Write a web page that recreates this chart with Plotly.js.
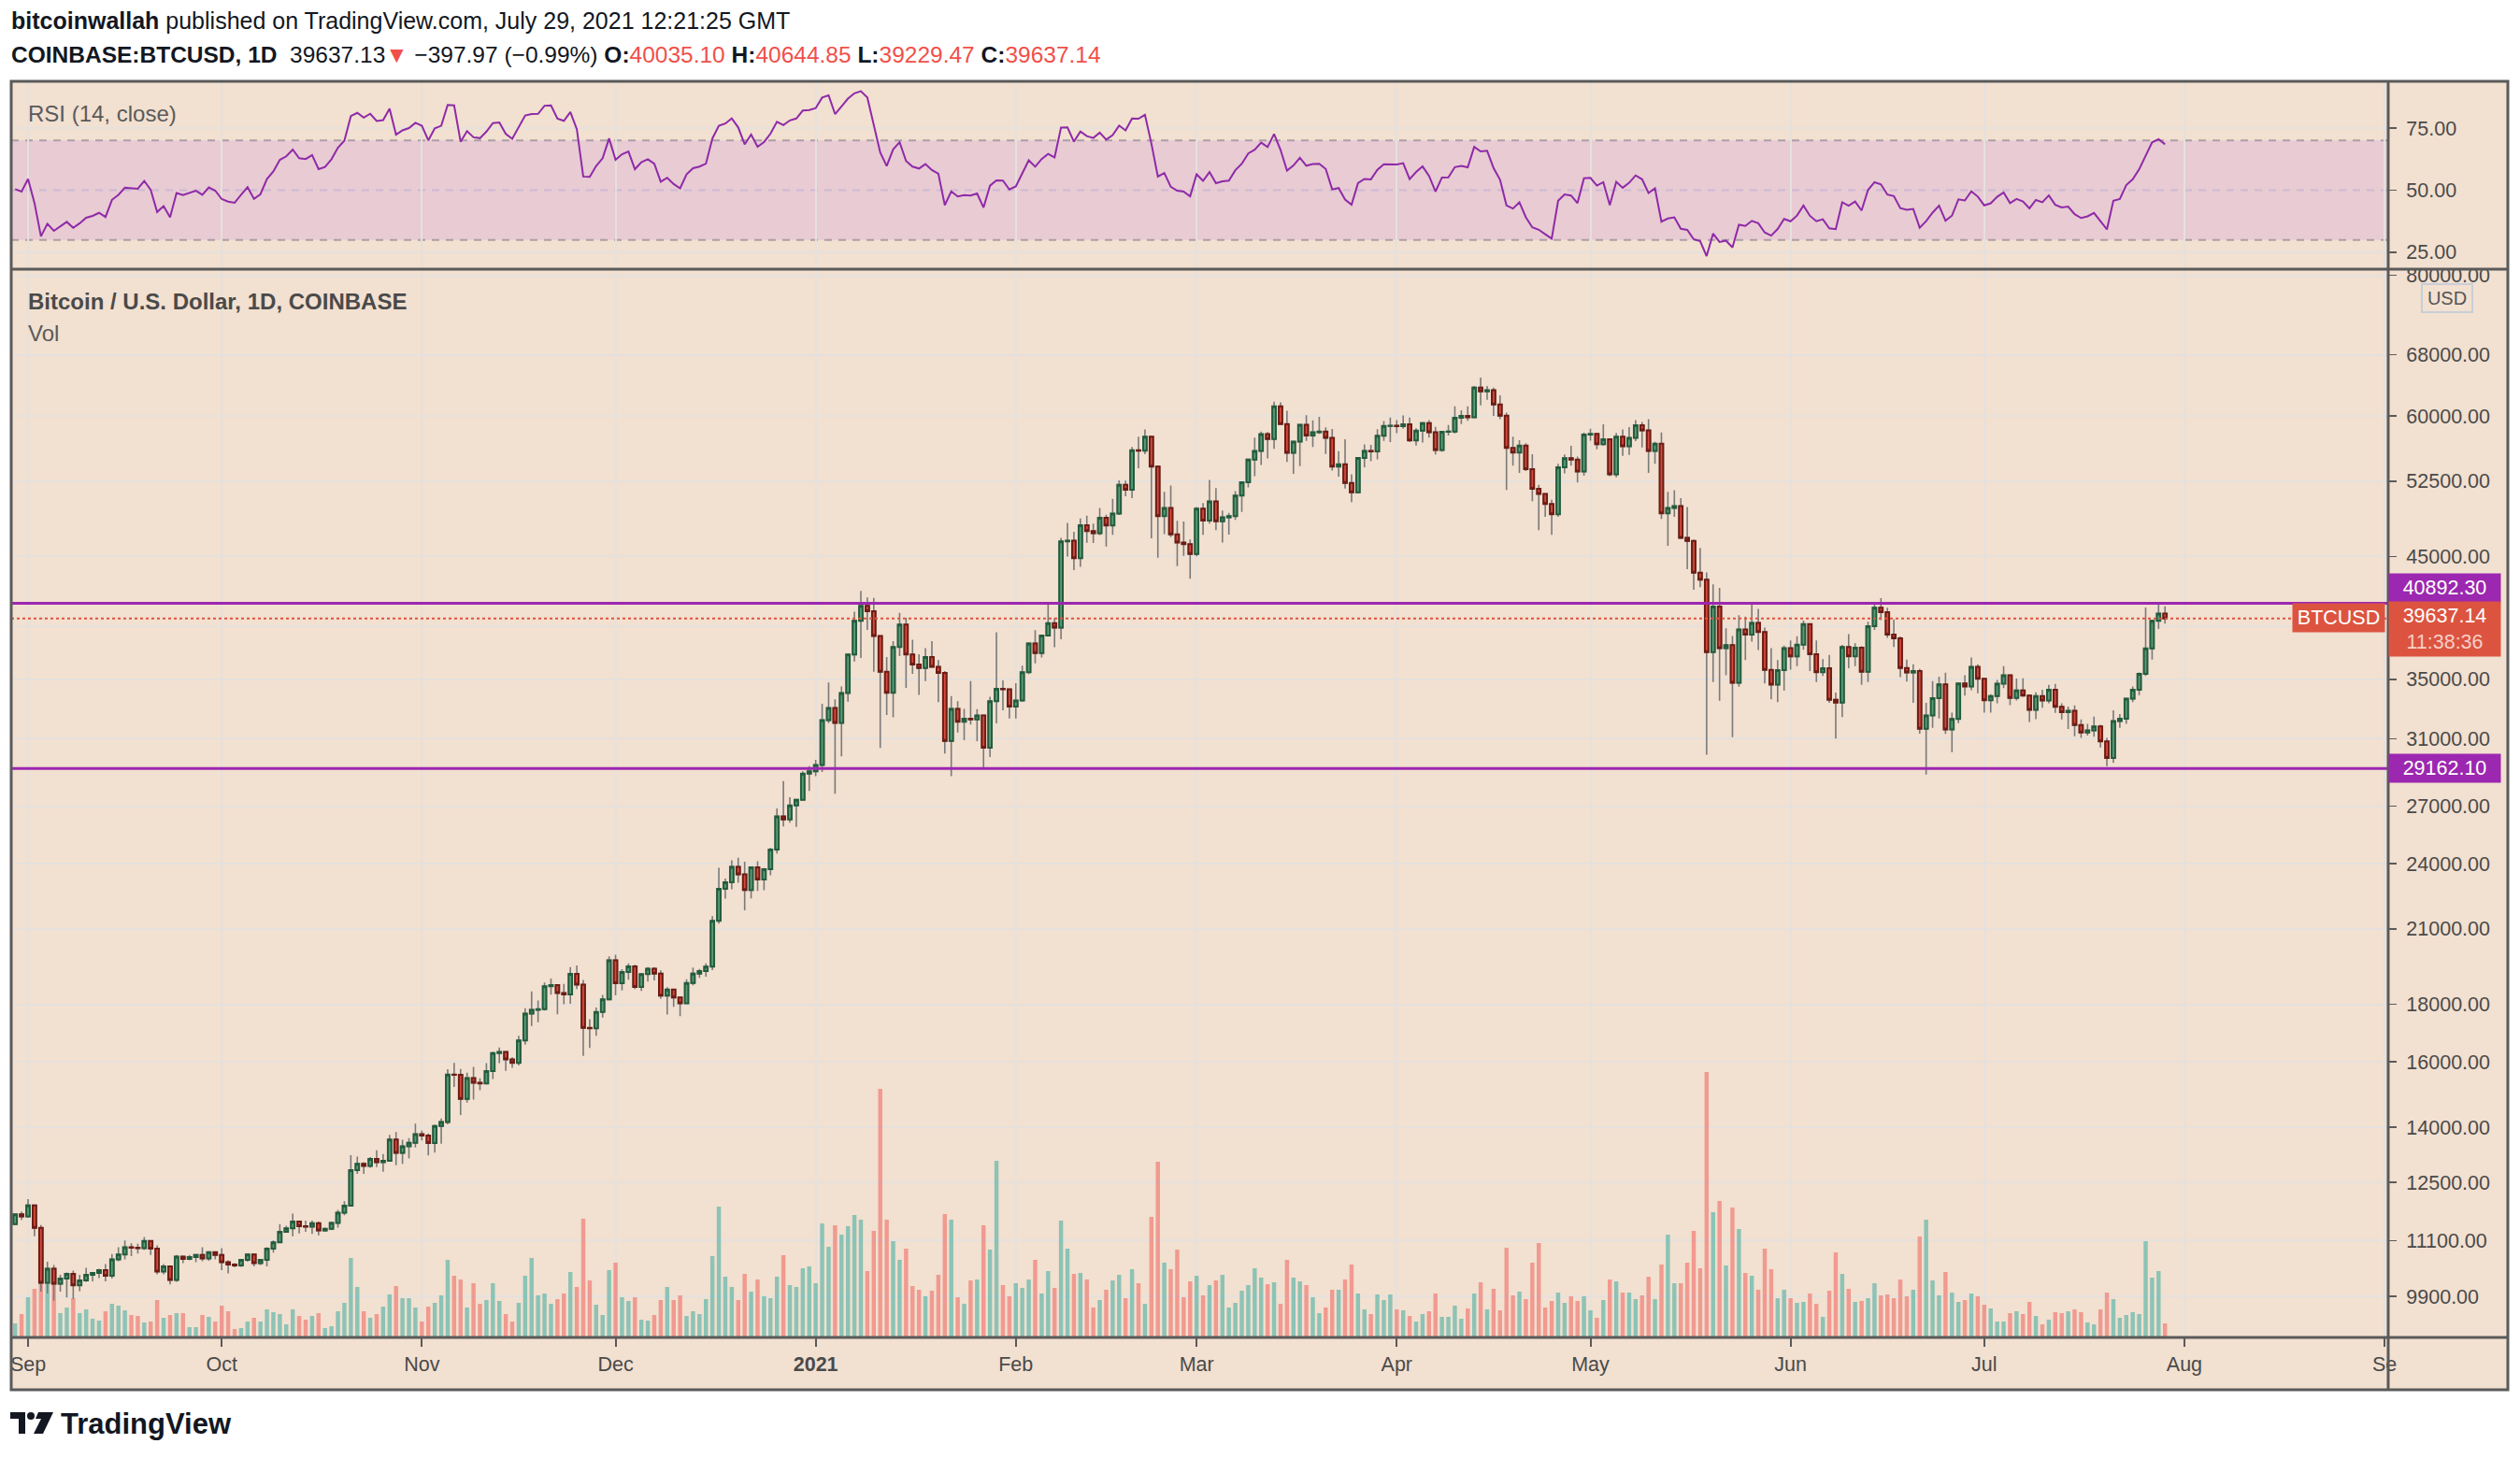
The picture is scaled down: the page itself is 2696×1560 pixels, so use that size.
<!DOCTYPE html>
<html><head><meta charset="utf-8">
<script src="https://cdn.plot.ly/plotly-3.0.1.min.js"></script>
<style>html,body{margin:0;padding:0;background:#fff;}#chart{width:2696px;height:1560px;}</style>
</head><body><div id="chart"></div>
<script>
// ---------------- DATA (daily candles, COINBASE:BTCUSD, 2020-08-30 .. 2021-07-29) ----------------
const startDate = '2020-08-30';
const open = [
11480,11710,
11660,11930,11390,10180,10480,10160,10270,10370,10130,10230,10350,10390,10450,10330,10680,10790,10950,10940,10930,11090,10920,10420,10530,10240,10740,10690,10730,10780,10700,10840,
10780,10620,10570,10550,10670,10790,10600,10670,10920,11060,11300,11380,11540,11430,11420,11500,11330,11370,11510,11750,11920,12820,12990,12930,13120,13030,13070,13650,13280,13460,13560,
13800,13760,13550,14030,14150,15590,15580,14830,15480,15330,15310,15700,16290,16330,16080,15970,16720,17660,17800,17820,18680,18720,18420,18370,19160,18740,17150,17140,17720,18180,
19700,18790,19230,19450,18650,19150,19360,19170,18320,18550,18250,18040,18800,19170,19270,19440,21350,22800,23110,23850,23480,22740,23820,23240,23730,24700,26440,26280,27040,27360,28860,
28990,29370,32190,33000,32020,34030,36820,39460,40670,40240,38240,35550,34050,37390,39150,36830,36070,35820,36630,35910,35470,30850,32950,32090,32290,32250,32510,30430,33470,34320,34290,
33110,33520,35510,37670,36930,38290,39260,38900,46420,46480,44840,47970,47400,47190,48720,47950,49140,52120,51600,55920,55880,57490,54100,48880,49700,47090,46300,46150,
45240,49620,48440,50370,48370,48750,48880,50970,52390,54880,55850,57800,57230,61190,59000,55640,56930,58930,57650,58030,58100,57370,54100,54340,52300,51310,55050,55860,55790,57620,58780,
58800,58740,58990,57070,58210,59130,58020,55950,58090,58120,59780,59990,59830,63590,63100,63230,61410,60020,56200,55660,56470,53810,51690,51140,50100,49060,54020,55040,54860,53560,
57750,57830,56620,57200,53240,57490,56390,57360,58860,58240,55850,56690,49150,49700,49880,46760,46450,43540,42910,37000,40610,37300,37540,34750,38760,38360,39290,38560,35680,34630,35660,
37300,36680,37570,39190,36850,35520,35800,33570,33380,37390,36690,37340,35550,39020,40530,40160,38350,38070,35820,35490,35600,31640,32510,33680,34640,31590,32280,34700,34490,35910,
35040,33540,33820,34690,35290,33700,34220,33860,32880,33820,33520,34260,33090,32730,32820,31880,31390,31520,31780,30830,29800,32130,32290,33640,34270,35400,37280,39460,40035.10
];
const high = [
11720,11780,
12080,11950,11460,10630,10560,10350,10400,10440,10350,10500,10400,10480,10580,10800,10950,11100,11040,11030,11180,11090,10990,10580,10540,10780,10760,10780,10800,10950,10860,10850,
10930,10660,10600,10690,10800,10800,10690,10950,11100,11480,11440,11730,11560,11560,11560,11540,11400,11540,11820,12030,13220,13180,13030,13170,13350,13250,13780,13860,13640,13690,14100,
13900,13820,14070,14250,15760,15970,15770,15650,15840,15470,15960,16340,16480,16330,16150,16880,17860,18480,18140,18820,18970,18750,18770,19420,19490,18920,17460,17880,18350,19860,
19920,19340,19570,19520,19180,19420,19420,19290,18640,18560,18290,18950,19410,19350,19570,21560,23800,23280,24170,24300,24100,23840,24120,23790,24790,26870,28420,27500,27380,28990,29300,
29680,33300,34780,33600,34500,36880,40200,41950,41380,41350,38260,36630,37850,40100,39700,37950,36850,37300,37850,36400,35600,33830,33470,32940,34880,32930,32560,33780,38530,34930,34330,
34720,35990,37700,38700,38310,40940,39700,46750,48200,47340,48640,48920,48140,49710,49010,50640,52580,52550,56300,57500,58350,57540,54210,51370,52040,48400,48350,46600,
49790,50200,52640,51770,49450,49200,51450,52400,54900,57390,58100,58050,61790,61700,60630,56950,58990,60100,59470,59900,58600,58430,55830,57200,53240,55100,56600,56560,58400,59380,59800,
59490,60050,59800,58500,59260,59480,58660,58160,58880,61200,60700,61200,63780,64900,63800,63570,62580,60410,57500,57100,56750,55470,52120,51170,50540,54390,55450,56450,55200,58000,
58450,57940,58990,57200,57940,58370,58650,59500,59250,59600,56900,58000,51370,51550,50700,49800,46600,45800,43550,42500,42200,38850,38250,39900,39800,40850,40420,38900,37300,36400,37500,
37900,38230,39480,39240,37900,36480,36790,34070,37550,38400,37690,37450,39380,41000,41330,40530,39560,38210,36450,36100,35750,33350,34880,35200,35480,32700,34700,35300,36600,36100,
35040,33950,34950,35950,35300,35050,35070,33910,34080,34260,34600,34670,33320,33100,33180,32250,31950,32430,31890,31050,32850,32600,33650,34500,35500,40550,39550,40900,40644.85
];
const low = [
11460,11580,
11630,11200,10000,9960,9820,10000,9880,9850,10010,10200,10210,10280,10210,10270,10640,10680,10750,10810,10890,10780,10360,10360,10150,10200,10600,10660,10620,10640,10650,10680,
10450,10380,10510,10520,10630,10530,10560,10530,10830,11050,11280,11200,11260,11300,11250,11220,11300,11340,11400,11690,11900,12720,12720,12880,12900,12780,13050,12950,12990,13130,13430,
13620,13210,13290,13530,14080,15200,14350,14720,14810,15100,15280,15450,15960,15710,15810,15880,16570,17220,17350,17770,18360,17640,18000,18020,18570,16200,16460,16880,17520,18180,
18330,18520,18930,18570,18500,18860,18900,18200,17630,17910,17570,18010,18710,19000,19050,19300,21230,22350,22780,23080,21820,22360,22700,22730,23440,24510,25900,26100,25880,27330,27850,
28700,28950,32000,27700,29900,33440,36300,36570,38720,35550,30420,32530,32380,36700,34400,35400,33900,34880,35880,33400,30070,28700,31390,30900,31910,30840,29240,29860,31990,32850,32310,
32300,33430,35370,36160,36600,38220,37380,37990,45000,43760,44060,46290,46250,47020,45920,47050,49000,50900,50700,53900,55490,46700,44890,47100,46820,44120,45050,43000,
45020,47050,48140,47500,46300,47070,48500,49300,51840,53030,54270,55000,56080,58970,54600,53300,54150,57000,56300,57820,55500,53650,53000,51700,50300,51300,54000,54700,54900,57020,56870,
57930,58450,56900,56480,56830,57400,55450,55780,57650,57900,59000,59400,59820,61300,62020,60000,59600,51560,54200,53400,53600,50400,47500,48800,47050,48800,53350,54200,52360,53100,
57050,56050,56470,53050,52900,55300,55400,56970,56250,53400,54390,48600,46000,48800,46650,43850,42050,42270,30000,34800,33500,35300,31100,34480,36400,37800,37170,34700,33600,33400,34200,
35700,35950,37180,35600,34800,35250,33350,31000,32400,35800,35950,34600,34800,38730,39500,38100,37400,35150,34840,33350,31320,28800,31700,32300,31300,30150,32000,33850,34230,34020,
32700,32700,33330,34370,33200,33520,33770,32080,32260,33020,33320,32680,32250,31620,31150,31050,31200,31130,30450,29300,29500,31700,31950,33400,33880,35240,36450,38800,39229.47
];
const close = [
11710,11660,
11930,11390,10180,10480,10160,10270,10370,10130,10230,10350,10390,10450,10330,10680,10790,10950,10940,10930,11090,10920,10420,10530,10240,10740,10690,10730,10780,10700,10840,10780,
10620,10570,10550,10670,10790,10600,10670,10920,11060,11300,11380,11540,11430,11420,11500,11330,11370,11510,11750,11920,12820,12990,12930,13120,13030,13070,13650,13280,13460,13560,13800,
13760,13550,14030,14150,15590,15580,14830,15480,15330,15310,15700,16290,16330,16080,15970,16720,17660,17800,17820,18680,18720,18420,18370,19160,18740,17150,17140,17720,18180,19700,
18790,19230,19450,18650,19150,19360,19170,18320,18550,18250,18040,18800,19170,19270,19440,21350,22800,23110,23850,23480,22740,23820,23240,23730,24700,26440,26280,27040,27360,28860,28990,
29370,32190,33000,32020,34030,36820,39460,40670,40240,38240,35550,34050,37390,39150,36830,36070,35820,36630,35910,35470,30850,32950,32090,32290,32250,32510,30430,33470,34320,34290,33110,
33520,35510,37670,36930,38290,39260,38900,46420,46480,44840,47970,47400,47190,48720,47950,49140,52120,51600,55920,55880,57490,54100,48880,49700,47090,46300,46150,45240,
49620,48440,50370,48370,48750,48880,50970,52390,54880,55850,57800,57230,61190,59000,55640,56930,58930,57650,58030,58100,57370,54100,54340,52300,51310,55050,55860,55790,57620,58780,58800,
58740,58990,57070,58210,59130,58020,55950,58090,58120,59780,59990,59830,63590,63100,63230,61410,60020,56200,55660,56470,53810,51690,51140,50100,49060,54020,55040,54860,53560,57750,
57830,56620,57200,53240,57490,56390,57360,58860,58240,55850,56690,49150,49700,49880,46760,46450,43540,42910,37000,40610,37300,37540,34750,38760,38360,39290,38560,35680,34630,35660,37300,
36680,37570,39190,36850,35520,35800,33570,33380,37390,36690,37340,35550,39020,40530,40160,38350,38070,35820,35490,35600,31640,32510,33680,34640,31590,32280,34700,34490,35910,35040,
33540,33820,34690,35290,33700,34220,33860,32880,33820,33520,34260,33090,32730,32820,31880,31390,31520,31780,30830,29800,32130,32290,33640,34270,35400,37280,39460,40035.10,39637.14
];
const volume = [
45,75,
129,156,239,177,179,78,96,126,78,90,60,54,84,108,102,87,72,69,48,51,120,63,72,78,78,33,33,72,66,51,
102,84,27,30,51,63,51,90,81,75,42,90,69,57,69,78,30,36,84,111,255,162,84,63,75,99,138,165,126,126,96,
51,99,111,135,249,198,186,96,174,108,120,174,117,75,51,111,198,255,135,141,108,123,141,210,162,381,183,105,72,216,
240,129,117,129,57,54,72,120,162,120,135,69,84,75,123,261,420,195,162,120,204,147,186,132,126,195,264,168,162,222,228,
174,366,291,360,330,357,393,378,213,342,798,378,309,249,285,165,153,132,150,201,396,378,129,108,183,186,360,282,567,168,132,
174,159,186,249,141,213,159,375,285,204,207,186,96,120,153,183,201,126,219,174,108,387,564,240,219,282,129,180,
198,135,168,183,201,96,111,150,168,222,192,171,177,108,249,192,180,168,129,78,96,153,153,186,234,141,90,75,138,120,138,
90,87,69,51,75,84,141,66,66,102,60,93,141,177,90,156,87,288,135,147,123,240,303,96,117,144,111,132,117,132,
87,63,120,186,180,144,144,123,135,195,123,234,330,174,174,240,342,222,852,402,438,231,417,348,207,198,153,285,219,126,153,
126,111,114,141,108,66,150,273,204,156,114,117,126,174,135,138,126,186,132,153,324,378,183,135,210,144,114,120,141,132,
105,93,51,51,78,84,75,114,69,42,57,81,78,84,90,81,48,42,90,144,123,63,72,81,75,309,192,213,45
];
// closes of the weeks before the first candle, only used to seed RSI(14)
const warmupClose = [11800,11070,11230,11190,11740,11770,11600,11760,11680,11880,11400,11580,11780,11770,11860,11910,12290,11960,11750,11860,11530,11680,11650,11760,11340,11470,11330,11540,11480];
const levels = [40892.30, 29162.10];
const lastPrice = 39637.14;
const priceTicks = [80000,68000,60000,52500,45000,39000,35000,31000,27000,24000,21000,18000,16000,14000,12500,11100,9900];
const rsiTicks = [25, 50, 75];
const rsiBands = [30, 50, 70];
const monthTicks = ['2020-09-01','2020-10-01','2020-11-01','2020-12-01','2021-01-01','2021-02-01','2021-03-01','2021-04-01','2021-05-01','2021-06-01','2021-07-01','2021-08-01','2021-09-01'];
const monthLabels = ['Sep','Oct','Nov','Dec','<b>2021</b>','Feb','Mar','Apr','May','Jun','Jul','Aug','Se'];

// ---------------- derived ----------------
const t0 = Date.parse(startDate + 'T00:00:00Z');
const dates = close.map((_, i) => new Date(t0 + i * 86400000).toISOString().slice(0, 10));
const up = close.map((c, i) => c >= open[i]);
const bodyHigh = close.map((c, i) => Math.max(c, open[i]));
const bodyLow = close.map((c, i) => Math.min(c, open[i]));

function rsi(series, n) {
  const out = new Array(series.length).fill(null);
  let g = 0, l = 0;
  for (let i = 1; i <= n; i++) { const d = series[i] - series[i - 1]; if (d > 0) g += d; else l -= d; }
  g /= n; l /= n;
  out[n] = 100 - 100 / (1 + g / l);
  for (let i = n + 1; i < series.length; i++) {
    const d = series[i] - series[i - 1];
    g = (g * (n - 1) + Math.max(d, 0)) / n;
    l = (l * (n - 1) + Math.max(-d, 0)) / n;
    out[i] = 100 - 100 / (1 + g / l);
  }
  return out;
}
const rsiAll = rsi(warmupClose.concat(close), 14);
const rsiVals = rsiAll.slice(warmupClose.length);

// ---------------- geometry helpers (pixel -> paper) ----------------
const L = 12, R = 2555, T = 87, B = 1431;
const PX = p => (p - L) / (R - L);
const PY = p => (B - p) / (B - T);
const splitY = PY(288);
const FONT = 'Liberation Sans, Arial, sans-serif';
const BG = '#f2e0d0', GRID = '#e5e1dd', BORDER = '#5a5a5a', AXTXT = '#4a4a4a';

const traces = [
  { type: 'bar', x: dates, y: volume, xaxis: 'x', yaxis: 'y2',
    marker: { color: up.map(u => u ? 'rgba(38,166,154,0.5)' : 'rgba(239,83,80,0.5)'), line: { width: 0 } },
    width: 0.64 * 86400000, hoverinfo: 'skip', showlegend: false },
  { type: 'candlestick', x: dates, open: open, high: high, low: low, close: close, xaxis: 'x', yaxis: 'y3',
    increasing: { line: { color: '#7a7a7a', width: 1.6 }, fillcolor: 'rgba(0,0,0,0)' },
    decreasing: { line: { color: '#7a7a7a', width: 1.6 }, fillcolor: 'rgba(0,0,0,0)' },
    whiskerwidth: 0, hoverinfo: 'skip', showlegend: false },
  { type: 'candlestick', x: dates, open: open, high: bodyHigh, low: bodyLow, close: close, xaxis: 'x', yaxis: 'y3',
    increasing: { line: { color: '#235c3d', width: 2 }, fillcolor: '#5c9d78' },
    decreasing: { line: { color: '#6c1c15', width: 2 }, fillcolor: '#d84a3a' },
    whiskerwidth: 0, hoverinfo: 'skip', showlegend: false },
  { type: 'scatter', mode: 'lines', x: dates, y: rsiVals, xaxis: 'x', yaxis: 'y',
    line: { color: '#8e2aa8', width: 2 }, hoverinfo: 'skip', showlegend: false }
];

const shapes = [];
// panel background (extends under the axes strips)
shapes.push({ type: 'rect', xref: 'paper', yref: 'paper', x0: PX(L), x1: PX(2683), y0: PY(1487), y1: PY(T),
  fillcolor: BG, line: { width: 0 }, layer: 'below' });
// RSI band
shapes.push({ type: 'rect', xref: 'paper', yref: 'y', x0: 0, x1: 1, y0: rsiBands[0], y1: rsiBands[2],
  fillcolor: '#e8cbd3', line: { width: 0 }, layer: 'below' });
// RSI grid at 25 / 75
[rsiTicks[0], rsiTicks[2]].forEach(v => shapes.push({ type: 'line', xref: 'paper', yref: 'y', x0: 0, x1: 1, y0: v, y1: v,
  line: { color: GRID, width: 2 }, layer: 'below' }));
// RSI dashed band lines
shapes.push({ type: 'line', xref: 'paper', yref: 'y', x0: 0, x1: 1, y0: rsiBands[2], y1: rsiBands[2], line: { color: '#ad9ea8', width: 2, dash: '8px,7px' }, layer: 'below' });
shapes.push({ type: 'line', xref: 'paper', yref: 'y', x0: 0, x1: 1, y0: rsiBands[0], y1: rsiBands[0], line: { color: '#ad9ea8', width: 2, dash: '8px,7px' }, layer: 'below' });
shapes.push({ type: 'line', xref: 'paper', yref: 'y', x0: 0, x1: 1, y0: rsiBands[1], y1: rsiBands[1], line: { color: '#cdb9d3', width: 2, dash: '8px,7px' }, layer: 'below' });
// horizontal levels
levels.forEach(v => shapes.push({ type: 'line', xref: 'paper', yref: 'y3', x0: 0, x1: 1, y0: v, y1: v,
  line: { color: '#9c27b0', width: 3.2 }, layer: 'above' }));
// last price dotted line
shapes.push({ type: 'line', xref: 'paper', yref: 'y3', x0: 0, x1: 1, y0: lastPrice, y1: lastPrice,
  line: { color: '#e0533e', width: 2, dash: 'dot' }, layer: 'above' });
// borders
shapes.push({ type: 'rect', xref: 'paper', yref: 'paper', x0: PX(L), x1: PX(2683), y0: PY(1487), y1: PY(T),
  line: { color: BORDER, width: 3 }, fillcolor: 'rgba(0,0,0,0)', layer: 'above' });
shapes.push({ type: 'line', xref: 'paper', yref: 'paper', x0: PX(R), x1: PX(R), y0: PY(1487), y1: PY(T), line: { color: BORDER, width: 3 }, layer: 'above' });
shapes.push({ type: 'line', xref: 'paper', yref: 'paper', x0: PX(L), x1: PX(2683), y0: splitY, y1: splitY, line: { color: BORDER, width: 3 }, layer: 'above' });
shapes.push({ type: 'line', xref: 'paper', yref: 'paper', x0: PX(L), x1: PX(2683), y0: PY(B), y1: PY(B), line: { color: BORDER, width: 3 }, layer: 'above' });
// TradingView logo mark
const path = pts => 'M ' + pts.map(p => PX(p[0]) + ',' + PY(p[1])).join(' L ') + ' Z';
shapes.push({ type: 'path', xref: 'paper', yref: 'paper', path: path([[11,1511],[27,1511],[27,1534],[20,1534],[20,1518],[11,1518]]), fillcolor: '#131722', line: { width: 0 } });
shapes.push({ type: 'circle', xref: 'paper', yref: 'paper', x0: PX(29), x1: PX(37), y0: PY(1519), y1: PY(1511), fillcolor: '#131722', line: { width: 0 } });
shapes.push({ type: 'path', xref: 'paper', yref: 'paper', path: path([[41,1511],[57,1511],[46,1534],[36,1534],[44,1518],[38,1518]]), fillcolor: '#131722', line: { width: 0 } });

const ann = (text, px, py, o) => Object.assign({ text: text, xref: 'paper', yref: 'paper', x: PX(px), y: PY(py),
  xanchor: 'left', yanchor: 'middle', showarrow: false, font: { family: FONT, size: 22, color: '#131722' } }, o || {});
const red = s => '<span style="color:#f0504a">' + s + '</span>';
const annotations = [
  ann('<b>bitcoinwallah</b> published on TradingView.com, July 29, 2021 12:21:25 GMT', 10, 22, { font: { family: FONT, size: 25, color: '#131722' } }),
  ann('<b>COINBASE:BTCUSD, 1D</b>  39637.13' + red('▼') + ' −397.97 (−0.99%) <b>O:</b>' + red('40035.10') + ' <b>H:</b>' + red('40644.85') + ' <b>L:</b>' + red('39229.47') + ' <b>C:</b>' + red('39637.14'), 10, 58, { font: { family: FONT, size: 24.5, color: '#131722' } }),
  ann('RSI (14, close)', 28, 121, { font: { family: FONT, size: 24, color: '#5a5a5a' } }),
  ann('<b>Bitcoin / U.S. Dollar, 1D, COINBASE</b>', 28, 322, { font: { family: FONT, size: 24, color: '#4a4a4a' } }),
  ann('Vol', 28, 356, { font: { family: FONT, size: 24, color: '#5a5a5a' } }),
  ann('<b>TradingView</b>', 63, 1523, { font: { family: FONT, size: 31, color: '#131722' } }),
  // right-scale labels
  ann('USD', 2618, 319, { xanchor: 'center', font: { family: FONT, size: 20, color: '#555' }, bordercolor: '#c9ced8', borderwidth: 2, borderpad: 3, bgcolor: BG, width: 46 }),
  ann(levels[0].toFixed(2), R, 629, { font: { family: FONT, size: 21.5, color: '#ffffff' }, bgcolor: '#9c27b0', borderpad: 4, width: 111, height: 22, align: 'center' }),
  ann(levels[1].toFixed(2), R, 822, { font: { family: FONT, size: 21.5, color: '#ffffff' }, bgcolor: '#9c27b0', borderpad: 4, width: 111, height: 22, align: 'center' }),
  ann(lastPrice.toFixed(2) + '<br><span style="color:#f6cfc8">11:38:36</span>', R, 673, { font: { family: FONT, size: 21.5, color: '#ffffff' }, bgcolor: '#dc5440', borderpad: 4, width: 111, height: 50, align: 'center' }),
  ann('BTCUSD', 2552, 661, { xanchor: 'right', font: { family: FONT, size: 21.5, color: '#ffffff' }, bgcolor: '#dc5440', borderpad: 4, width: 90, height: 22, align: 'center' })
];

const layout = {
  width: 2696, height: 1560,
  margin: { l: L, r: 2696 - R, t: T, b: 1560 - B, pad: 0 },
  paper_bgcolor: '#ffffff', plot_bgcolor: BG,
  showlegend: false, hovermode: false, dragmode: false,
  bargap: 0.36, boxgap: 0.22,
  font: { family: FONT, size: 21, color: AXTXT },
  xaxis: {
    type: 'date', range: ['2020-08-29 09:28', '2021-09-01 13:41'], anchor: 'y2',
    tickmode: 'array', tickvals: monthTicks, ticktext: monthLabels,
    ticks: 'outside', ticklen: 9, tickwidth: 2, tickcolor: BORDER,
    tickfont: { family: FONT, size: 21.5, color: AXTXT },
    showgrid: true, gridcolor: GRID, gridwidth: 2, showline: false, zeroline: false,
    rangeslider: { visible: false }, fixedrange: true
  },
  yaxis: {
    domain: [splitY, 1], range: [18.2, 93.8], side: 'right', anchor: 'x',
    tickmode: 'array', tickvals: rsiTicks, ticktext: rsiTicks.map(v => v.toFixed(2)),
    ticks: 'outside', ticklen: 8, tickwidth: 1.5, tickcolor: BORDER, ticklabelstandoff: 6,
    tickfont: { family: FONT, size: 21.5, color: AXTXT },
    showgrid: false, zeroline: false, showline: false, fixedrange: true
  },
  yaxis2: {
    domain: [0, splitY], range: [0, 3429], anchor: 'x', visible: false, showgrid: false, zeroline: false, fixedrange: true
  },
  yaxis3: {
    type: 'log', overlaying: 'y2', range: [Math.log10(9104), Math.log10(81015)], side: 'right', anchor: 'x',
    tickmode: 'array', tickvals: priceTicks, ticktext: priceTicks.map(v => v === 39000 ? '' : v.toFixed(2)),
    ticks: 'outside', ticklen: 8, tickwidth: 1.5, tickcolor: BORDER, ticklabelstandoff: 6,
    tickfont: { family: FONT, size: 21.5, color: AXTXT },
    showgrid: true, gridcolor: GRID, gridwidth: 2, zeroline: false, showline: false, fixedrange: true
  },
  shapes: shapes,
  annotations: annotations
};

Plotly.newPlot('chart', traces, layout, { staticPlot: true, displayModeBar: false });
</script>
</body></html>
